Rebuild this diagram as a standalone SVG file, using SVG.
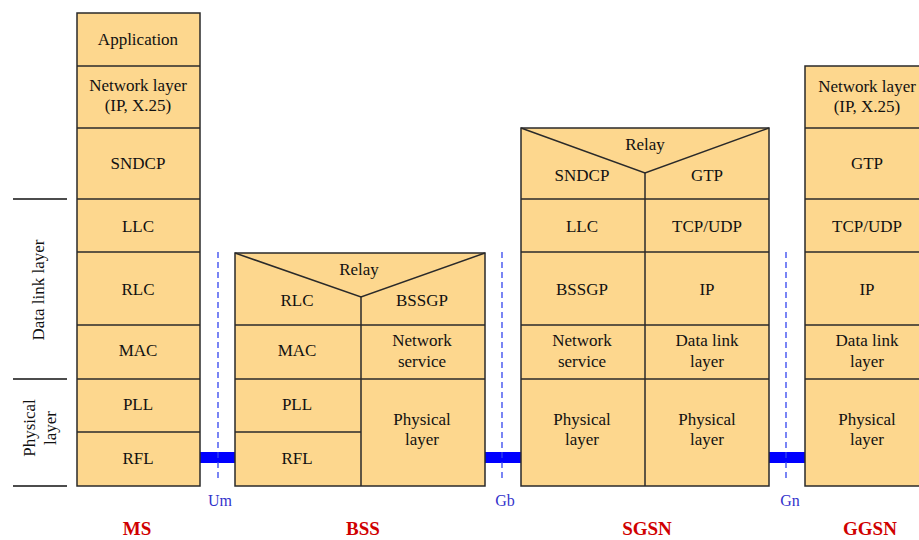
<svg xmlns="http://www.w3.org/2000/svg" width="919" height="540" viewBox="0 0 919 540">
<style>
.box{fill:#FDD78E;stroke:#2a2a2a;stroke-width:1.5}
.ln{stroke:#2a2a2a;stroke-width:1.5;fill:none}
.t{font-family:"Liberation Serif","Times New Roman",serif;font-size:17px;fill:#111;text-anchor:middle}
.side{stroke:#111;stroke-width:1.5}
.dash{stroke:#3344EE;stroke-width:1.3;stroke-dasharray:6,4}
.bar{fill:#0000FF}
.if{font-family:"Liberation Serif","Times New Roman",serif;font-size:16px;fill:#3333CC;text-anchor:middle}
.name{font-family:"Liberation Serif","Times New Roman",serif;font-size:19px;font-weight:bold;fill:#D00000;text-anchor:middle}
</style>
<rect width="919" height="540" fill="#FFFFFF"/>

<g id="layer-labels">
  <line class="side" x1="13" y1="199" x2="67" y2="199"/>
  <line class="side" x1="13" y1="379" x2="67" y2="379"/>
  <line class="side" x1="13" y1="486" x2="67" y2="486"/>
  <text class="t" transform="translate(44,290) rotate(-90)">Data link layer</text>
  <text class="t" transform="translate(35,428) rotate(-90)">Physical</text>
  <text class="t" transform="translate(56,428) rotate(-90)">layer</text>
</g>

<g id="connectors">
  <rect class="bar" x="200" y="452" width="35" height="11"/>
  <rect class="bar" x="485" y="452" width="36" height="11"/>
  <rect class="bar" x="769" y="452" width="36" height="11"/>
  <line class="dash" x1="218" y1="252" x2="218" y2="482"/>
  <line class="dash" x1="502" y1="252" x2="502" y2="482"/>
  <line class="dash" x1="786" y1="252" x2="786" y2="482"/>
  <text class="if" x="220" y="506">Um</text>
  <text class="if" x="505" y="506">Gb</text>
  <text class="if" x="790" y="506">Gn</text>
</g>

<g id="MS">
  <rect class="box" x="77" y="13" width="123" height="473"/>
  <line class="ln" x1="77" y1="66" x2="200" y2="66"/>
  <line class="ln" x1="77" y1="128" x2="200" y2="128"/>
  <line class="ln" x1="77" y1="199" x2="200" y2="199"/>
  <line class="ln" x1="77" y1="252" x2="200" y2="252"/>
  <line class="ln" x1="77" y1="325" x2="200" y2="325"/>
  <line class="ln" x1="77" y1="379" x2="200" y2="379"/>
  <line class="ln" x1="77" y1="432" x2="200" y2="432"/>
  <text class="t" x="138" y="45">Application</text>
  <text class="t" x="138" y="91">Network layer</text>
  <text class="t" x="138" y="111">(IP, X.25)</text>
  <text class="t" x="138" y="169">SNDCP</text>
  <text class="t" x="138" y="232">LLC</text>
  <text class="t" x="138" y="295">RLC</text>
  <text class="t" x="138" y="356">MAC</text>
  <text class="t" x="138" y="410">PLL</text>
  <text class="t" x="138" y="464">RFL</text>
  <text class="name" x="137" y="535">MS</text>
</g>

<g id="BSS">
  <rect class="box" x="235" y="253" width="250" height="233"/>
  <polyline class="ln" points="235,253 361,297 485,253"/>
  <line class="ln" x1="361" y1="297" x2="361" y2="486"/>
  <line class="ln" x1="235" y1="325" x2="485" y2="325"/>
  <line class="ln" x1="235" y1="379" x2="485" y2="379"/>
  <line class="ln" x1="235" y1="432" x2="361" y2="432"/>
  <text class="t" x="359" y="275">Relay</text>
  <text class="t" x="297" y="306">RLC</text>
  <text class="t" x="422" y="306">BSSGP</text>
  <text class="t" x="297" y="356">MAC</text>
  <text class="t" x="422" y="346">Network</text>
  <text class="t" x="422" y="367">service</text>
  <text class="t" x="297" y="410">PLL</text>
  <text class="t" x="297" y="464">RFL</text>
  <text class="t" x="422" y="425">Physical</text>
  <text class="t" x="422" y="445">layer</text>
  <text class="name" x="363" y="535">BSS</text>
</g>

<g id="SGSN">
  <rect class="box" x="521" y="128" width="248" height="358"/>
  <polyline class="ln" points="521,128 645,173 769,128"/>
  <line class="ln" x1="645" y1="173" x2="645" y2="486"/>
  <line class="ln" x1="521" y1="199" x2="769" y2="199"/>
  <line class="ln" x1="521" y1="252" x2="769" y2="252"/>
  <line class="ln" x1="521" y1="325" x2="769" y2="325"/>
  <line class="ln" x1="521" y1="379" x2="769" y2="379"/>
  <text class="t" x="645" y="150">Relay</text>
  <text class="t" x="582" y="181">SNDCP</text>
  <text class="t" x="707" y="181">GTP</text>
  <text class="t" x="582" y="232">LLC</text>
  <text class="t" x="707" y="232">TCP/UDP</text>
  <text class="t" x="582" y="295">BSSGP</text>
  <text class="t" x="707" y="295">IP</text>
  <text class="t" x="582" y="346">Network</text>
  <text class="t" x="582" y="367">service</text>
  <text class="t" x="707" y="346">Data link</text>
  <text class="t" x="707" y="367">layer</text>
  <text class="t" x="582" y="425">Physical</text>
  <text class="t" x="582" y="445">layer</text>
  <text class="t" x="707" y="425">Physical</text>
  <text class="t" x="707" y="445">layer</text>
  <text class="name" x="647" y="535">SGSN</text>
</g>

<g id="GGSN">
  <rect class="box" x="805" y="66" width="130" height="420"/>
  <line class="ln" x1="805" y1="128" x2="919" y2="128"/>
  <line class="ln" x1="805" y1="199" x2="919" y2="199"/>
  <line class="ln" x1="805" y1="252" x2="919" y2="252"/>
  <line class="ln" x1="805" y1="325" x2="919" y2="325"/>
  <line class="ln" x1="805" y1="379" x2="919" y2="379"/>
  <text class="t" x="867" y="92">Network layer</text>
  <text class="t" x="867" y="112">(IP, X.25)</text>
  <text class="t" x="867" y="169">GTP</text>
  <text class="t" x="867" y="232">TCP/UDP</text>
  <text class="t" x="867" y="295">IP</text>
  <text class="t" x="867" y="346">Data link</text>
  <text class="t" x="867" y="367">layer</text>
  <text class="t" x="867" y="425">Physical</text>
  <text class="t" x="867" y="445">layer</text>
  <text class="name" x="870" y="535">GGSN</text>
</g>
</svg>
